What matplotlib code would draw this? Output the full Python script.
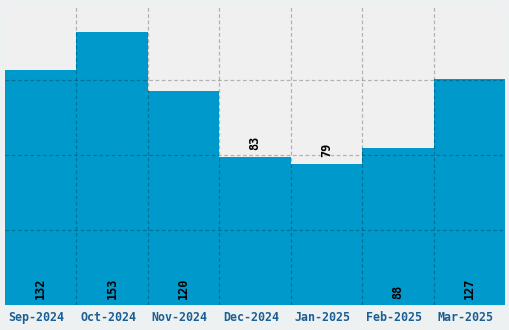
"""
Monthly counts, Sep 2024 – Mar 2025, as touching bars with rotated value labels.
"""
import matplotlib
matplotlib.use("Agg")
import matplotlib.pyplot as plt
import matplotlib.ticker as mticker
import matplotlib.transforms as mtransforms
import numpy as np

months = ["Sep-2024", "Oct-2024", "Nov-2024", "Dec-2024",
          "Jan-2025", "Feb-2025", "Mar-2025"]
counts = [132, 153, 120, 83, 79, 88, 127]

BAR = "#0099cc"
PANEL = "#f0f0f0"
FIGBG = "#edf1f2"
TICK = "#1a5f96"

plt.rcParams["font.family"] = ["DejaVu Sans Mono"]

fig = plt.figure(figsize=(5.1, 3.3), dpi=100, facecolor=FIGBG)
ax = fig.add_axes([5 / 510, 25 / 330, 500 / 510, 300 / 330])
ax.set_facecolor(PANEL)

x = np.arange(len(months))
ax.bar(x, counts, width=1.0, color=BAR, zorder=1)

ymax = max(counts) * 1.1
ax.set_xlim(-0.5, len(months) - 0.5)
ax.set_ylim(0, ymax)

# grid: vertical at bar edges, horizontal at quarters, drawn over bars
ax.set_xticks(x)
ax.set_xticklabels(months)
ax.xaxis.set_minor_locator(mticker.FixedLocator(x[:-1] + 0.5))
ax.set_yticks(np.linspace(0, ymax, 5)[1:-1])
ax.set_yticklabels([])
ax.grid(which="minor", axis="x", color="black", alpha=0.25,
        linestyle=(0, (3, 2)), linewidth=0.9, zorder=3)
ax.grid(which="major", axis="y", color="black", alpha=0.25,
        linestyle=(0, (3, 2)), linewidth=0.9, zorder=3)
ax.set_axisbelow(False)

ax.tick_params(axis="x", which="both", length=0, pad=4, colors=TICK,
               labelsize=8.4)
shift = mtransforms.ScaledTranslation(-4 / 100, 0, fig.dpi_scale_trans)
for lab in ax.get_xticklabels():
    lab.set_fontweight("bold")
    lab.set_transform(lab.get_transform() + shift)
ax.tick_params(axis="y", length=0)
for s in ax.spines.values():
    s.set_visible(False)

# value labels: inside at bottom for tall bars, above for short ones
for xi, v in zip(x, counts):
    if v > ymax / 2:
        ax.annotate(str(v), (xi, 0), xytext=(0, 4), textcoords="offset points",
                    rotation=90, ha="center", va="bottom", fontsize=8.6,
                    fontweight="bold", color="black", zorder=4)
    else:
        ax.annotate(str(v), (xi, v), xytext=(0, 5), textcoords="offset points",
                    rotation=90, ha="center", va="bottom", fontsize=8.6,
                    fontweight="bold", color="black", zorder=4)

fig.savefig("out.png", dpi=100, facecolor=FIGBG)
plt.close(fig)
